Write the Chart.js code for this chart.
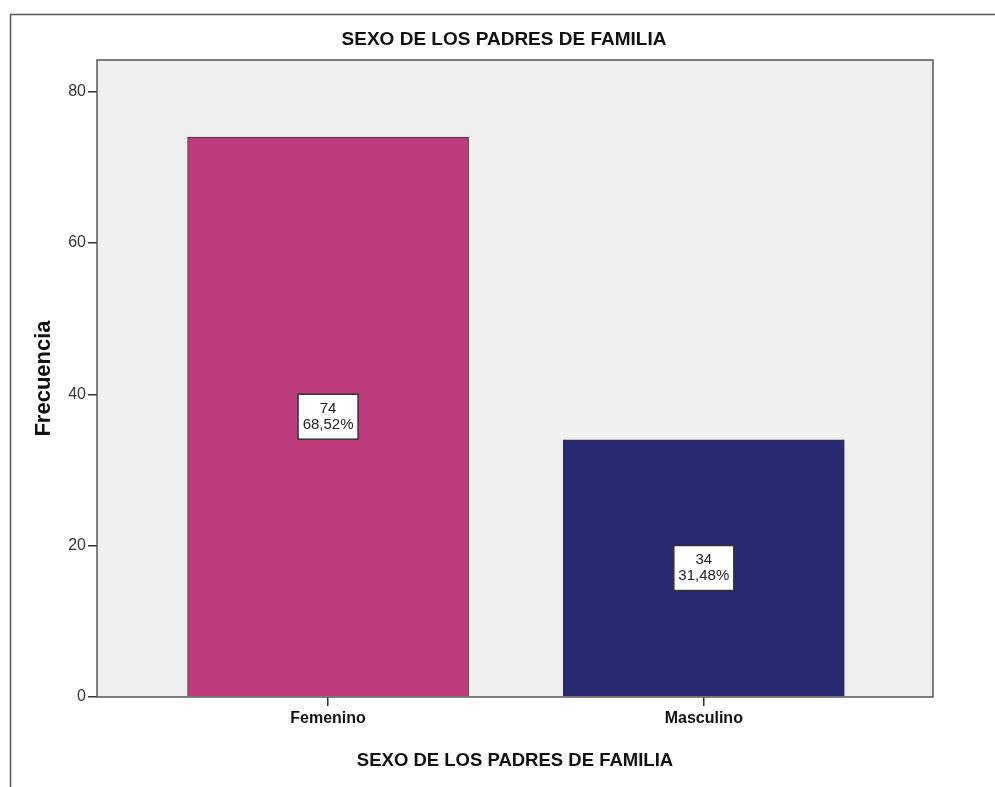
<!DOCTYPE html>
<html>
<head>
<meta charset="utf-8">
<script src="https://cdn.jsdelivr.net/npm/chart.js@4.4.1/dist/chart.umd.min.js"></script>
<style>
  body { margin: 0; background: #fff; }
  #wrap { width: 995px; height: 787px; }
</style>
</head>
<body>
<div id="wrap"><canvas id="myChart" width="995" height="787"></canvas></div>
<script>
const chartTitle = "SEXO DE LOS PADRES DE FAMILIA"
const categories = ["Femenino", "Masculino"]
const counts = [74, 34]
const barColors = ["#bd3c7c", "#292a72"]
const yTicks = [0, 20, 40, 60, 80]

const total = counts.reduce((a, b) => a + b, 0)
const percents = counts.map(v => (v / total * 100).toFixed(2).replace(".", ",") + "%")

// frame, plot background and titles drawn around the chart area
const decor = {
  id: "decor",
  beforeDraw(chart) {
    const {ctx, chartArea: a} = chart
    ctx.save()
    ctx.fillStyle = "#fff"
    ctx.fillRect(0, 0, chart.width, chart.height)
    ctx.strokeStyle = "#555"
    ctx.lineWidth = 1.5
    ctx.beginPath()
    ctx.moveTo(10.5, chart.height)
    ctx.lineTo(10.5, 14.5)
    ctx.lineTo(chart.width, 14.5)
    ctx.stroke()
    ctx.fillStyle = "#efefef"
    ctx.fillRect(a.left, a.top, a.right - a.left, a.bottom - a.top)
    ctx.restore()
  },
  afterDatasetsDraw(chart) {
    const {ctx, chartArea: a} = chart
    const meta = chart.getDatasetMeta(0)
    ctx.save()
    meta.data.forEach((bar, i) => {
      const cy = (bar.y + bar.base) / 2
      const w = 60, h = 45
      ctx.fillStyle = "#fff"
      ctx.fillRect(bar.x - w / 2, cy - h / 2, w, h)
      ctx.strokeStyle = "#333"
      ctx.lineWidth = 1.5
      ctx.strokeRect(bar.x - w / 2, cy - h / 2, w, h)
      ctx.fillStyle = "#222"
      ctx.font = "15px Arial, 'Liberation Sans'"
      ctx.textAlign = "center"
      ctx.textBaseline = "middle"
      ctx.fillText(String(counts[i]), bar.x, cy - 8)
      ctx.fillText(percents[i], bar.x, cy + 8)
    })
    ctx.strokeStyle = "#555"
    ctx.lineWidth = 1.5
    ctx.strokeRect(a.left, a.top, a.right - a.left, a.bottom - a.top)
    ctx.fillStyle = "#111"
    ctx.font = "bold 19px Arial, 'Liberation Sans'"
    ctx.textAlign = "center"
    ctx.textBaseline = "middle"
    ctx.fillText(chartTitle, 504, 40)
    ctx.restore()
  }
}

var ctx = document.getElementById('myChart').getContext('2d');
var myChart = new Chart(ctx, {
  type: 'bar',
  data: {
    datasets: [{
      data: categories.map((c, i) => ({x: i, y: counts[i]})),
      backgroundColor: barColors,
      borderColor: "#333",
      borderWidth: 1,
      barThickness: 281
    }]
  },
  options: {
    responsive: false,
    animation: false,
    layout: {padding: {left: 0, top: 60, right: 62, bottom: 0}},
    plugins: {
      legend: {display: false},
      tooltip: {enabled: false},
      title: {display: false}
    },
    scales: {
      x: {
        type: 'linear',
        min: -0.615,
        max: 1.61,
        offset: false,
        afterBuildTicks: s => { s.ticks = categories.map((c, i) => ({value: i})) },
        afterFit: s => { s.height = 90 },
        border: {display: false},
        grid: {offset: false, drawOnChartArea: false, tickLength: 9, color: "#333", lineWidth: 1.5},
        ticks: {
          padding: 3,
          color: "#111",
          font: {family: "Arial, 'Liberation Sans'", size: 16, weight: 'bold'},
          callback: v => categories[v]
        },
        title: {
          display: true,
          text: chartTitle,
          color: "#111",
          font: {family: "Arial, 'Liberation Sans'", size: 18.5, weight: 'bold'},
          padding: {top: 15, bottom: 15}
        }
      },
      y: {
        min: 0,
        max: 84.2,
        afterBuildTicks: s => { s.ticks = yTicks.map(v => ({value: v})) },
        afterFit: s => { s.width = 97 },
        border: {display: false},
        grid: {drawOnChartArea: false, tickLength: 9, color: "#333", lineWidth: 1.5},
        ticks: {
          padding: 2,
          color: "#333",
          font: {family: "Arial, 'Liberation Sans'", size: 16}
        },
        title: {
          display: true,
          text: "Frecuencia",
          color: "#111",
          font: {family: "Arial, 'Liberation Sans'", size: 22, weight: 'bold'},
          padding: {top: 31, bottom: 31}
        }
      }
    }
  },
  plugins: [decor]
});
</script>
</body>
</html>
